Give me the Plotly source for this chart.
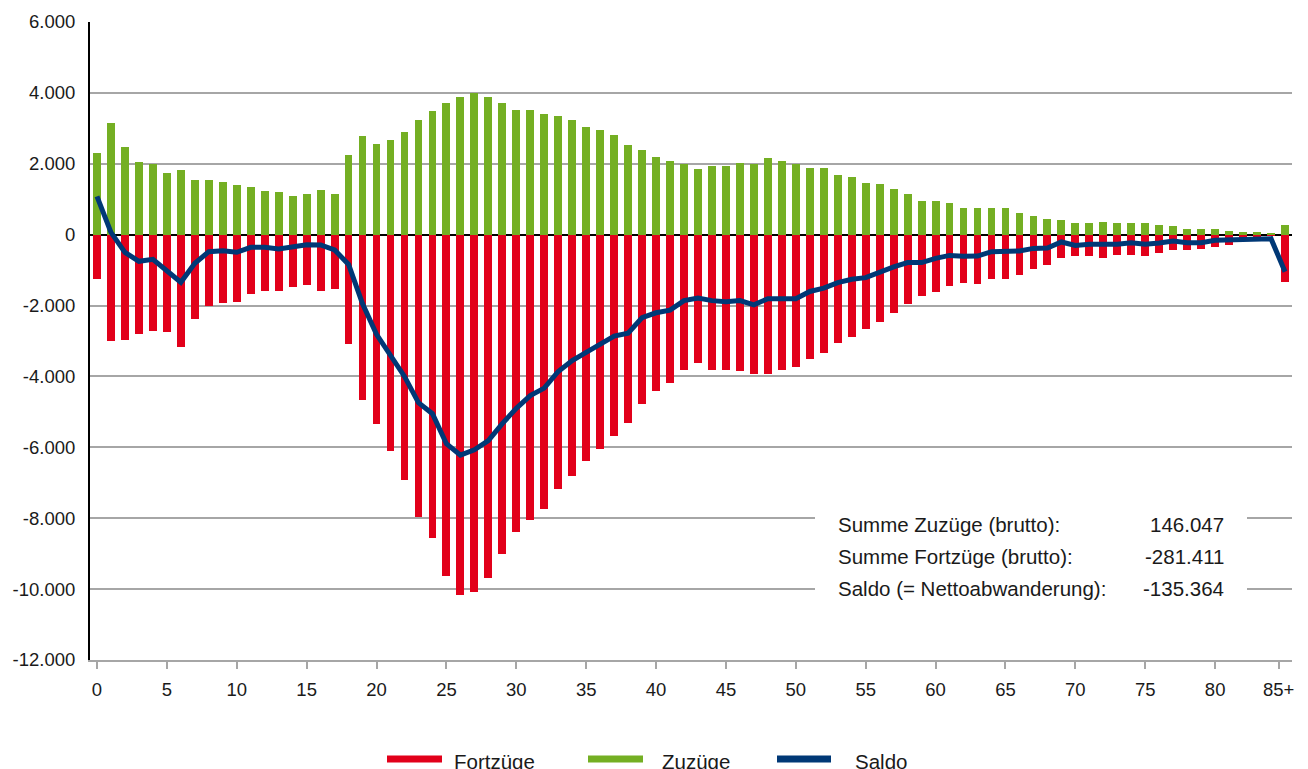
import plotly.graph_objects as go

# ---- data ----
ages = list(range(86))
x_tick_vals = [0, 5, 10, 15, 20, 25, 30, 35, 40, 45, 50, 55, 60, 65, 70, 75, 80, 84.55]
x_tick_text = ["0", "5", "10", "15", "20", "25", "30", "35", "40", "45", "50",
               "55", "60", "65", "70", "75", "80", "85+"]
y_tick_vals = [-12000, -10000, -8000, -6000, -4000, -2000, 0, 2000, 4000, 6000]
y_tick_text = ["-12.000", "-10.000", "-8.000", "-6.000", "-4.000", "-2.000", "0",
               "2.000", "4.000", "6.000"]

zuzuege = [2300, 3150, 2470, 2050, 2000, 1750, 1820, 1530, 1530, 1490,
           1400, 1350, 1240, 1190, 1100, 1150, 1270, 1145, 2255, 2770,
           2555, 2680, 2895, 3240, 3495, 3710, 3880, 4010, 3880, 3710,
           3530, 3530, 3410, 3335, 3240, 3025, 2940, 2820, 2525, 2400,
           2200, 2075, 1980, 1850, 1935, 1935, 2020, 1980, 2150, 2065,
           1980, 1887, 1887, 1680, 1630, 1460, 1425, 1285, 1160, 945,
           945, 890, 760, 754, 754, 754, 622, 537, 453, 405,
           321, 321, 368, 321, 321, 321, 273, 236, 151, 151,
           151, 104, 66, 66, 19, 273]

fortzuege = [-1250, -3008, -2961, -2791, -2707, -2754, -3178, -2367, -2010, -1934,
             -1897, -1671, -1596, -1596, -1465, -1418, -1596, -1540, -3081, -4669,
             -5346, -6117, -6935, -7969, -8570, -9642, -10159, -10074, -9689, -9003,
             -8401, -8053, -7743, -7189, -6822, -6380, -6042, -5694, -5309, -4791,
             -4407, -4185, -3806, -3611, -3806, -3806, -3852, -3935, -3935, -3806,
             -3731, -3518, -3352, -3055, -2880, -2667, -2463, -2204, -1954, -1741,
             -1611, -1460, -1370, -1386, -1264, -1264, -1132, -962, -868, -651,
             -604, -613, -660, -566, -566, -613, -528, -443, -443, -396,
             -349, -302, -179, -132, -38, -1339]

saldo = [1080, 66, -498, -751, -695, -1014, -1343, -807, -479, -451,
         -498, -357, -357, -404, -357, -282, -291, -430, -840, -1950,
         -2810, -3400, -4000, -4740, -5050, -5900, -6220, -6070, -5810, -5330,
         -4900, -4540, -4330, -3860, -3550, -3320, -3080, -2860, -2780, -2340,
         -2204, -2130, -1861, -1787, -1861, -1889, -1861, -1981, -1805, -1805,
         -1805, -1602, -1509, -1352, -1259, -1213, -1046, -907, -787, -787,
         -667, -585, -610, -603, -481, -481, -462, -387, -377, -207,
         -302, -273, -273, -273, -226, -273, -236, -179, -226, -226,
         -160, -151, -151, -151, -113, -1047]

summary_labels = ["Summe Zuzüge (brutto):", "Summe Fortzüge (brutto):",
                  "Saldo (= Nettoabwanderung):"]
summary_values = ["146.047", "-281.411", "-135.364"]

series_names = ["Fortzüge", "Zuzüge", "Saldo"]

# ---- style ----
RED = "#E2001A"
GREEN = "#74AF23"
NAVY = "#003876"
GRID = "#A6A6A6"
TEXT = "#1A1A1A"
FONT = "Liberation Sans"

fig = go.Figure()
fig.add_trace(go.Bar(x=ages, y=fortzuege, name=series_names[0], marker_color=RED,
                     marker_line_width=0, width=0.56))
fig.add_trace(go.Bar(x=ages, y=zuzuege, name=series_names[1], marker_color=GREEN,
                     marker_line_width=0, width=0.56))
fig.add_trace(go.Scatter(x=ages, y=saldo, name=series_names[2], mode="lines",
                         line=dict(color=NAVY, width=5)))

# The page adds an 8px body margin; target plot area in page pixels:
# x 90..1292, y 22..660
OFF = 8
W, H = 1308 - OFF, 769 - OFF
PL, PR, PT, PB = 90, 1292, 22, 660
L, T = PL - OFF, PT - OFF
R = W - (PR - OFF)
B = H - (PB - OFF)
pw, ph = PR - PL, PB - PT


def px_x(p):
    return (p - PL) / pw


def px_y(p):
    return (PB - p) / ph


shapes = []
annotations = []

# white box behind summary text
shapes.append(dict(type="rect", xref="paper", yref="paper",
                   x0=px_x(815), x1=px_x(1247), y0=px_y(603), y1=px_y(505),
                   fillcolor="white", line_width=0, layer="above"))
for i, (lab, val) in enumerate(zip(summary_labels, summary_values)):
    yy = px_y(524 + 32 * i)
    annotations.append(dict(xref="paper", yref="paper", x=px_x(836), y=yy,
                            text=lab, showarrow=False, xanchor="left",
                            yanchor="middle", font=dict(size=20.5, color=TEXT, family=FONT)))
    annotations.append(dict(xref="paper", yref="paper", x=px_x(1226), y=yy,
                            text=val, showarrow=False, xanchor="right",
                            yanchor="middle", font=dict(size=20.5, color=TEXT, family=FONT)))

# custom legend
legend_items = [(series_names[0], RED, 387, 442, 452),
                (series_names[1], GREEN, 588, 643, 660),
                (series_names[2], NAVY, 777, 831, 853)]
for name, col, a, b, t in legend_items:
    shapes.append(dict(type="line", xref="paper", yref="paper",
                       x0=px_x(a), x1=px_x(b), y0=px_y(759), y1=px_y(759),
                       line=dict(color=col, width=7)))
    annotations.append(dict(xref="paper", yref="paper", x=px_x(t), y=px_y(761),
                            text=name, showarrow=False, xanchor="left",
                            yanchor="middle", font=dict(size=20.5, color=TEXT, family=FONT)))

fig.update_layout(
    width=W, height=H,
    margin=dict(l=L, r=R, t=T, b=B, autoexpand=False),
    paper_bgcolor="white", plot_bgcolor="white",
    barmode="relative", bargap=0,
    showlegend=False,
    font=dict(family=FONT, size=18, color=TEXT),
    shapes=shapes, annotations=annotations,
)
fig.update_xaxes(range=[-0.5, 85.5], showgrid=False, zeroline=False, automargin=False,
                 tickmode="array", tickvals=x_tick_vals, ticktext=x_tick_text,
                 ticks="outside", ticklen=7, tickwidth=1.5, tickcolor=GRID,
                 ticklabelstandoff=5,
                 showline=True, linecolor=GRID, linewidth=2,
                 tickfont=dict(size=18.5, color=TEXT, family=FONT))
fig.update_yaxes(range=[-12000, 6000], tickmode="array", tickvals=y_tick_vals,
                 ticktext=y_tick_text, showgrid=True, gridcolor=GRID, gridwidth=2,
                 automargin=False,
                 zeroline=True, zerolinecolor="black", zerolinewidth=2,
                 showline=True, linecolor="black", linewidth=2,
                 ticks="", ticklabelstandoff=9,
                 tickfont=dict(size=18.5, color=TEXT, family=FONT))

fig.write_html("out.html")
